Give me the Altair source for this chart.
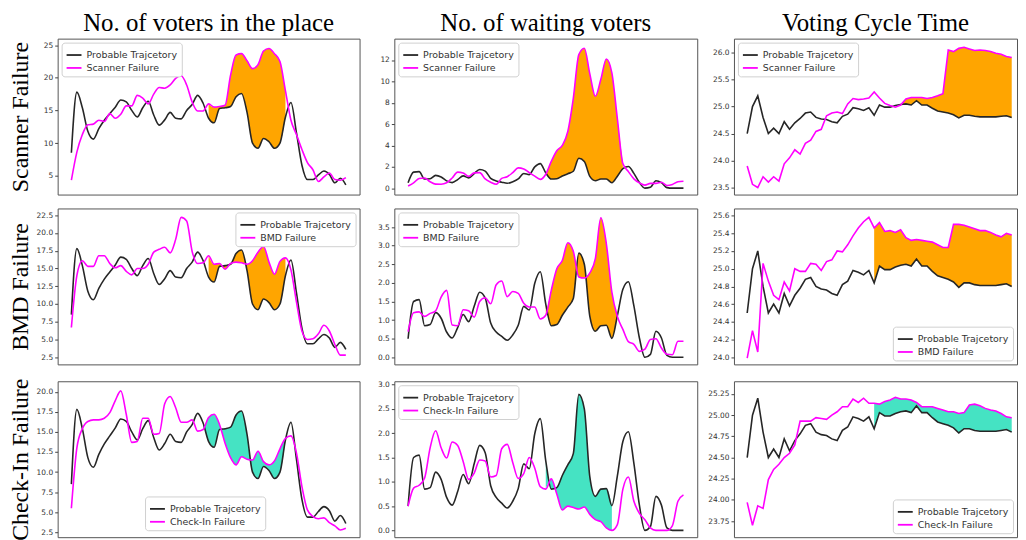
import altair as alt
import pandas as pd

# shared x grid (time index)
X = list(range(0, 101, 2))

BLACK_NAME = "Probable Trajcetory"
COL_TITLES = ["No. of voters in the place", "No. of waiting voters", "Voting Cycle Time"]
ROW_TITLES = ["Scanner Failure", "BMD Failure", "Check-In Failure"]
FAIL_NAMES = ["Scanner Failure", "BMD Failure", "Check-In Failure"]

# ---- column 1: voters in the place ----
B1 = [8.5, 17.8, 15.4, 11.8, 10.6, 12.2, 13.5, 14.5, 15.5, 16.6,
      16.3, 15.0, 14.0, 15.4, 16.4, 14.3, 12.75, 13.55, 14.7, 13.8,
      13.7, 15.0, 15.9, 17.3, 16.1, 13.8, 13.1, 15.3, 15.4, 15.6,
      17.1, 17.6, 14.7, 10.0, 9.2, 10.7, 10.2, 9.2, 10.0, 14.0,
      16.2, 11.6, 6.6, 4.4, 4.4, 5.1, 5.7, 5.2, 3.9, 4.6,
      3.6]
M11 = [4.3, 8.6, 11.3, 12.8, 12.9, 13.5, 13.3, 14.5, 13.8, 14.4,
       15.7, 15.7, 17.3, 16.9, 16.0, 17.5, 18.5, 18.4, 18.9, 19.9,
       20.3, 18.9, 16.3, 14.9, 14.9, 16.0, 15.5, 15.6, 15.8, 20.4,
       23.5, 23.7, 22.6, 21.4, 22.0, 24.1, 24.5, 23.7, 22.5, 18.0,
       13.5, 11.3, 9.0, 7.0, 5.9, 4.1, 4.8, 5.4, 4.4, 4.3,
       4.7]
M21 = [6.7, 14.0, 16.1, 15.3, 15.3, 16.8, 16.8, 15.7, 15.1, 15.4,
       14.6, 14.1, 15.0, 15.0, 15.6, 17.3, 17.7, 18.0, 17.2, 19.1,
       22.2, 21.7, 17.4, 15.7, 15.8, 16.8, 15.6, 15.7, 14.9, 15.7,
       15.9, 15.8, 15.6, 16.1, 17.3, 18.1, 15.9, 14.2, 16.0, 16.5,
       14.8, 10.3, 6.2, 5.0, 5.1, 5.8, 7.0, 6.2, 4.3, 2.8,
       2.8]
M31 = [5.5, 13.0, 15.4, 16.3, 16.5, 16.5, 16.7, 17.4, 18.9, 20.1,
       17.2, 13.7, 13.8, 16.7, 16.7, 14.7, 14.8, 18.5, 19.4, 18.0,
       16.2, 16.2, 16.5, 15.1, 15.3, 16.8, 17.2, 15.9, 13.6, 11.8,
       10.9, 11.9, 11.6, 11.5, 12.6, 11.3, 10.9, 11.4, 12.9, 14.2,
       14.5, 12.4, 8.2, 5.3, 4.5, 4.2, 4.3, 3.7, 3.3, 2.8,
       3.0]

# ---- column 2: waiting voters ----
B2 = [0.5, 1.5, 1.55, 0.85, 0.88, 1.2, 1.05, 0.68, 0.52, 0.8,
      1.15, 0.96, 1.37, 1.75, 1.6, 0.92, 0.68, 0.56, 0.46, 0.6,
      0.86, 1.37, 1.27, 1.99, 2.3, 1.43, 0.85, 0.88, 1.13, 1.35,
      1.58, 2.8, 2.5, 1.1, 0.7, 0.85, 0.86, 0.51, 1.12, 1.83,
      2.03, 1.38, 0.52, 0.0, 0.08, 0.7, 0.52, 0.05, 0.0, 0.0,
      0.0]
M12 = [0.2, 0.5, 0.9, 0.95, 0.6, 0.38, 0.37, 0.5, 0.95, 1.5,
       1.42, 1.1, 1.43, 1.45, 0.86, 0.55, 0.36, 0.92, 1.07, 1.45,
       1.9, 1.8, 1.45, 1.12, 0.82, 1.3, 2.5, 3.5, 4.0, 5.3,
       8.4, 12.5, 13.1, 10.7, 8.6, 10.2, 12.1, 10.8, 6.5, 2.3,
       1.55, 0.87, 0.49, 0.28, 0.45, 0.45, 0.55, 0.25, 0.35, 0.6,
       0.65]
M22 = [0.69, 1.2, 1.22, 1.1, 1.18, 1.25, 1.62, 1.8, 0.87, 0.85,
       1.28, 1.25, 1.08, 1.5, 1.6, 1.44, 1.95, 2.05, 1.63, 1.77,
       1.72, 1.45, 1.35, 1.35, 1.03, 1.13, 1.8, 2.38, 2.6, 3.08,
       2.85, 2.16, 2.13, 2.27, 2.65, 3.75, 3.05, 1.75, 1.1, 0.75,
       0.42, 0.35, 0.16, 0.22, 0.48, 0.5, 0.25, 0.08, 0.07, 0.43,
       0.43]
M32 = [0.5, 0.87, 0.93, 1.08, 1.7, 2.05, 1.7, 1.49, 1.82, 1.75,
       1.42, 1.05, 1.18, 1.45, 1.43, 1.1, 1.13, 1.68, 1.77, 1.4,
       1.07, 1.17, 1.5, 1.28, 0.9, 0.85, 1.06, 0.75, 0.42, 0.5,
       0.47, 0.44, 0.48, 0.33, 0.22, 0.18, 0.05, 0.0, 0.12, 0.85,
       1.1, 0.6, 0.35, 0.22, 0.05, 0.0, 0.0, 0.0, 0.1, 0.6,
       0.73]

# ---- column 3: voting cycle time ----
B3 = [24.5, 25.0, 25.2, 24.8, 24.5, 24.6, 24.5, 24.72, 24.58, 24.7,
      24.78, 24.88, 24.9, 24.8, 24.77, 24.76, 24.72, 24.7, 24.82, 24.86,
      24.98, 24.96, 24.93, 24.98, 24.84, 25.03, 24.99, 24.99, 25.02, 25.04,
      25.05, 25.03, 25.11, 25.03, 25.03, 24.97, 24.92, 24.9, 24.88, 24.85,
      24.79, 24.84, 24.84, 24.82, 24.81, 24.81, 24.81, 24.81, 24.82, 24.83,
      24.8]
M13 = [23.9, 23.56, 23.5, 23.7, 23.6, 23.7, 23.62, 23.94, 24.05, 24.2,
       24.12, 24.32, 24.38, 24.54, 24.58, 24.83, 24.88, 24.9, 24.87, 25.05,
       25.15, 25.13, 25.14, 25.16, 25.27, 25.16, 25.06, 25.02, 24.99, 25.03,
       25.14, 25.17, 25.17, 25.17, 25.15, 25.17, 25.2, 25.24, 26.05, 26.02,
       26.08, 26.1, 26.07, 26.04, 26.05, 26.04, 26.02, 25.99, 25.97, 25.93,
       25.91]
M23 = [23.99, 24.3, 24.06, 25.06, 24.86, 24.7, 24.65, 24.85, 24.75, 25.0,
       24.97, 24.97, 25.06, 25.05, 24.98, 25.08, 25.1, 25.2, 25.19, 25.27,
       25.37, 25.46, 25.53, 25.58, 25.46, 25.52, 25.42, 25.43, 25.41, 25.44,
       25.35, 25.32, 25.33, 25.32, 25.31, 25.3, 25.27, 25.24, 25.24, 25.5,
       25.5, 25.49, 25.47, 25.45, 25.43, 25.43, 25.41, 25.38, 25.36, 25.4,
       25.38]
M33 = [23.97, 23.7, 23.93, 23.9, 24.24, 24.36, 24.42, 24.5, 24.55, 24.65,
       24.93, 24.93, 24.93, 24.97, 24.96, 24.95, 25.0, 25.04, 25.1, 25.1,
       25.19, 25.15, 25.2, 25.14, 25.14, 25.13, 25.16, 25.18, 25.21, 25.19,
       25.19, 25.18, 25.15, 25.1, 25.1, 25.1, 25.08, 25.06, 25.04, 25.04,
       25.02, 25.03, 25.12, 25.13, 25.11, 25.08, 25.06, 25.05, 25.02, 24.98,
       24.97]

BASES = [B1, B2, B3]
FAILS = [[M11, M12, M13], [M21, M22, M23], [M31, M32, M33]]
FILL_RANGES = [[(50, 78), (50, 78), (58, 100)],
               [(50, 78), (50, 76), (48, 100)],
               [(48, 78), (50, 74), (48, 100)]]
FILL_COLORS = ["#FFA500", "#FFA500", "#45E3C3"]
Y_DOMAINS = [[(2.1, 26.0), (-0.6, 14.0), (23.37, 26.26)],
             [(1.5, 23.45), (-0.19, 4.0), (23.92, 25.68)],
             [(1.9, 21.3), (-0.14, 3.07), (23.56, 25.4)]]
Y_TICKS = [[[5, 10, 15, 20, 25], [0, 2, 4, 6, 8, 10, 12], [23.5, 24.0, 24.5, 25.0, 25.5, 26.0]],
           [[2.5, 5, 7.5, 10, 12.5, 15, 17.5, 20, 22.5], [0, 0.5, 1, 1.5, 2, 2.5, 3, 3.5],
            [24.0, 24.2, 24.4, 24.6, 24.8, 25.0, 25.2, 25.4, 25.6]],
           [[2.5, 5, 7.5, 10, 12.5, 15, 17.5, 20], [0, 0.5, 1, 1.5, 2, 2.5, 3],
            [23.75, 24.0, 24.25, 24.5, 24.75, 25.0, 25.25]]]
Y_FMT = [["d", "d", ".1f"], [".1f", ".1f", ".1f"], [".1f", ".1f", ".2f"]]
LEGEND_POS = [[{"orient": "top-left"}, {"orient": "top-left"}, {"orient": "top-left"}],
              [{"orient": "top-right"}, {"orient": "top-left"}, {"orient": "bottom-right"}],
              [{"orient": "none", "legendX": 88, "legendY": 116}, {"orient": "top-left"},
               {"orient": "bottom-right"}]]
WIDTHS = [304, 305, 285]
X_DOMAINS = [(-5, 105), (-5, 105), (-5, 102)]
INTERP = ["monotone", "monotone", "linear"]
HEIGHT = 157

LEGEND_STYLE = dict(title=None, symbolType="stroke", symbolSize=225, symbolStrokeWidth=1.8,
                    labelFontSize=9.5, labelFont="DejaVu Sans", labelColor="#333",
                    fillColor="white", strokeColor="#d0d0d0", cornerRadius=3,
                    padding=4, rowPadding=0, offset=4)


def make_panel(r, c):
    base = BASES[c]
    fail = FAILS[r][c]
    fname = FAIL_NAMES[r]
    n = len(X)
    wide = pd.DataFrame({"x": X, "base": base, "fail": fail})
    long = pd.DataFrame({"x": X + X, "v": base + fail,
                         "series": [BLACK_NAME] * n + [fname] * n})
    xenc = alt.X("x:Q", scale=alt.Scale(domain=list(X_DOMAINS[c]), nice=False, zero=False), axis=None)
    yscale = alt.Scale(domain=list(Y_DOMAINS[r][c]), nice=False, zero=False)
    if c == 0:
        axis = alt.Axis(values=Y_TICKS[r][c], format=Y_FMT[r][c], minExtent=22, maxExtent=22,
                        title=ROW_TITLES[r], titleFont="Liberation Serif", titleFontSize=24,
                        titleFontWeight="normal", titleColor="black", titlePadding=3)
    else:
        axis = alt.Axis(values=Y_TICKS[r][c], format=Y_FMT[r][c], minExtent=24, maxExtent=24,
                        title=None)
    lo, hi = FILL_RANGES[r][c]
    area = (alt.Chart(wide)
            .transform_filter(f"datum.x >= {lo} && datum.x <= {hi}")
            .mark_area(color=FILL_COLORS[r], opacity=1, interpolate=INTERP[c])
            .encode(x=xenc, y=alt.Y("base:Q", scale=yscale, axis=axis), y2="fail:Q"))
    color = alt.Color("series:N",
                      scale=alt.Scale(domain=[BLACK_NAME, fname], range=["#262626", "#ff00ff"]),
                      legend=alt.Legend(**LEGEND_STYLE, **LEGEND_POS[r][c]))
    lines = []
    for name in [BLACK_NAME, fname]:
        lines.append(alt.Chart(long)
                     .transform_filter(alt.datum.series == name)
                     .mark_line(strokeWidth=1.6, interpolate=INTERP[c])
                     .encode(x=xenc, y=alt.Y("v:Q", scale=yscale, axis=axis), color=color))
    ch = alt.layer(area, *lines).properties(width=WIDTHS[c], height=HEIGHT)
    if r == 0:
        ch = ch.properties(title=alt.TitleParams(COL_TITLES[c], font="Liberation Serif", fontSize=25,
                                                 fontWeight="normal", color="black", anchor="middle",
                                                 offset=3))
    return ch


panels = [make_panel(r, c) for r in range(3) for c in range(3)]

chart = (alt.concat(*panels, columns=3, spacing={"row": 12, "column": 9}, align="each")
         .resolve_scale(x="independent", y="independent", color="independent")
         .configure_view(stroke="#555", strokeWidth=1)
         .configure_axis(grid=False, domain=False, tickColor="#444", tickSize=3,
                         labelFontSize=7.5, labelColor="#333", labelFont="DejaVu Sans",
                         labelPadding=2)
         .properties(background="white", padding=0))

chart.save("out.html", embed_options={"renderer": "svg", "actions": False})
